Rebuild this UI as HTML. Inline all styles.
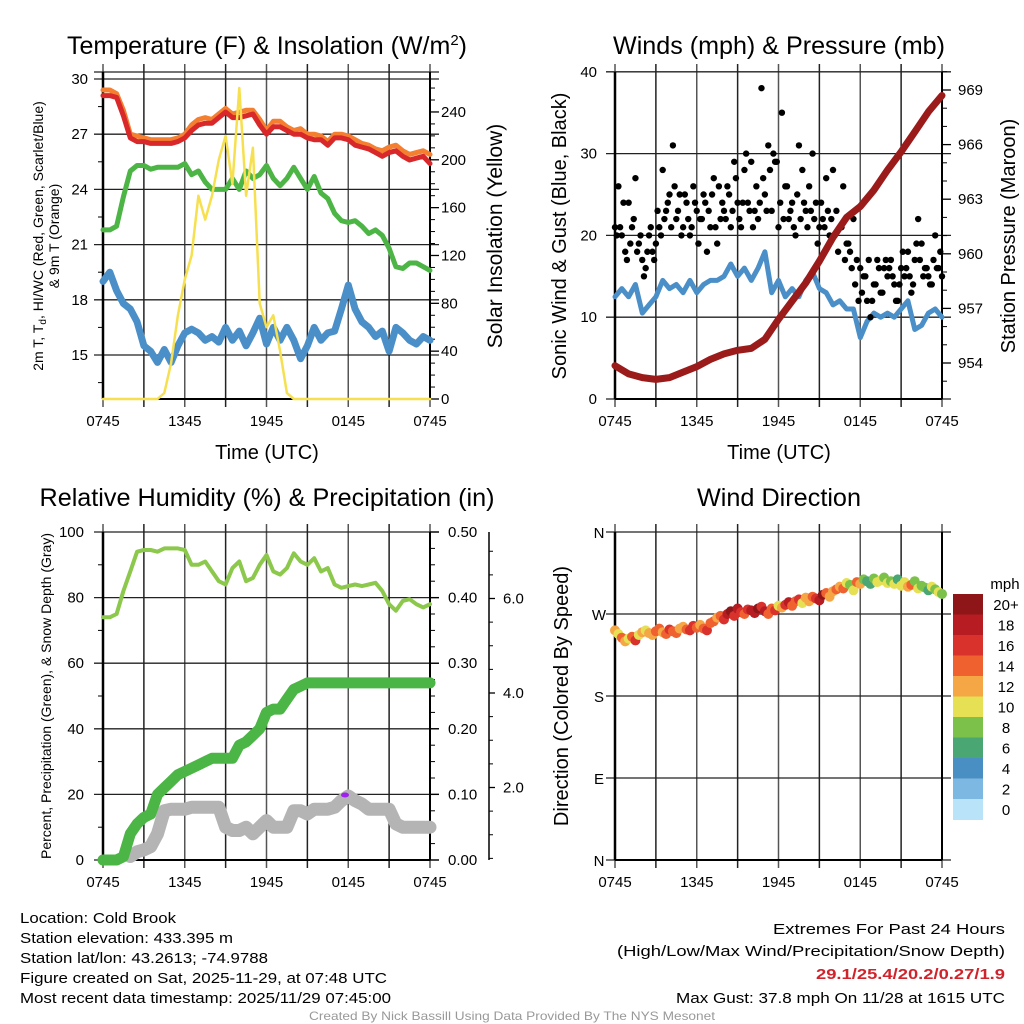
<!DOCTYPE html>
<html><head><meta charset="utf-8"><style>
html,body{margin:0;padding:0;background:#fff;}
svg{display:block;font-family:"Liberation Sans",sans-serif;}
</style></head><body>
<svg id="fig" width="1024" height="1024" viewBox="0 0 1024 1024" xmlns="http://www.w3.org/2000/svg">
<rect width="1024" height="1024" fill="#fff"/>
<g id="g1"></g>
<g id="g2"></g>
<g id="g3"></g>
<g id="g4"></g>
<text x="267" y="54" font-size="25" text-anchor="middle" textLength="400" lengthAdjust="spacingAndGlyphs">Temperature (F) &amp; Insolation (W/m<tspan dy="-9" font-size="15">2</tspan><tspan dy="9">)</tspan></text>
<text x="779" y="54" font-size="25" text-anchor="middle" textLength="332" lengthAdjust="spacingAndGlyphs">Winds (mph) &amp; Pressure (mb)</text>
<text x="267" y="506" font-size="25" text-anchor="middle" textLength="455" lengthAdjust="spacingAndGlyphs">Relative Humidity (%) &amp; Precipitation (in)</text>
<text x="779" y="506" font-size="25" text-anchor="middle" textLength="164" lengthAdjust="spacingAndGlyphs">Wind Direction</text>
<g font-size="15">
<text x="20" y="923" textLength="156" lengthAdjust="spacingAndGlyphs">Location: Cold Brook</text>
<text x="20" y="943" textLength="213" lengthAdjust="spacingAndGlyphs">Station elevation: 433.395 m</text>
<text x="20" y="963" textLength="248" lengthAdjust="spacingAndGlyphs">Station lat/lon: 43.2613; -74.9788</text>
<text x="20" y="983" textLength="367" lengthAdjust="spacingAndGlyphs">Figure created on Sat, 2025-11-29, at 07:48 UTC</text>
<text x="20" y="1003" textLength="371" lengthAdjust="spacingAndGlyphs">Most recent data timestamp: 2025/11/29 07:45:00</text>
<text x="1005" y="934" text-anchor="end" textLength="232" lengthAdjust="spacingAndGlyphs">Extremes For Past 24 Hours</text>
<text x="1005" y="956" text-anchor="end" textLength="388" lengthAdjust="spacingAndGlyphs">(High/Low/Max Wind/Precipitation/Snow Depth)</text>
<text x="1005" y="979" text-anchor="end" fill="#d0242c" font-weight="bold" textLength="189" lengthAdjust="spacingAndGlyphs">29.1/25.4/20.2/0.27/1.9</text>
<text x="1005" y="1003" text-anchor="end" textLength="329" lengthAdjust="spacingAndGlyphs">Max Gust: 37.8 mph On 11/28 at 1615 UTC</text>
<text x="512" y="1020" text-anchor="middle" font-size="12" fill="#999" textLength="406" lengthAdjust="spacingAndGlyphs">Created By Nick Bassill Using Data Provided By The NYS Mesonet</text>
</g>
</svg>
<script>
// ---- data (half-hourly, 49 points, 0745 -> 0745) ----
const timeLabels = ["0745","1345","1945","0145","0745"];
const tempRed = [29.1,29.1,29.0,28.0,26.8,26.6,26.6,26.5,26.5,26.5,26.5,26.6,26.8,27.2,27.5,27.6,27.6,27.9,28.2,27.9,27.9,28.0,28.1,27.5,27.0,27.4,27.4,27.2,27.0,27.0,26.8,26.7,26.7,26.4,26.8,26.8,26.7,26.4,26.3,26.2,26.0,25.8,26.0,26.1,25.8,25.6,25.7,25.8,25.4];
const temp9m = [29.4,29.4,29.2,28.3,27.0,26.9,26.8,26.7,26.7,26.7,26.7,26.8,27.0,27.5,27.8,27.9,27.8,28.1,28.4,28.1,28.2,28.3,28.3,27.8,27.2,27.7,27.7,27.4,27.2,27.3,27.0,27.0,26.9,26.6,27.0,27.0,26.9,26.7,26.5,26.4,26.2,26.1,26.3,26.4,26.1,25.9,26.0,26.1,25.9];
const tempGreen = [21.8,21.8,22.0,23.6,25.0,25.3,25.3,25.1,25.2,25.2,25.2,25.2,25.4,24.8,25.0,24.4,24.0,24.0,24.0,24.6,24.0,25.0,24.6,24.8,25.3,24.6,24.2,24.6,25.2,24.6,24.0,24.7,23.8,23.5,22.7,22.3,22.2,22.3,22.0,21.6,21.8,21.5,20.8,19.8,19.7,20.0,20.0,19.8,19.6];
const tempBlue = [19.0,19.5,18.5,17.8,17.5,16.8,15.5,15.2,14.6,15.3,14.6,15.5,16.2,16.4,16.2,15.8,16.0,15.7,16.5,15.8,16.3,15.5,16.2,17.0,15.6,16.5,15.8,16.5,15.8,14.8,15.5,16.5,15.8,16.2,16.3,17.5,18.8,17.5,16.8,16.5,16.0,16.3,15.2,16.5,16.2,15.8,15.6,16.0,15.8];
const solar = [0,0,0,0,0,0,0,0,0,5,30,70,100,120,170,150,170,200,220,180,260,170,210,80,60,70,40,5,0,0,0,0,0,0,0,0,0,0,0,0,0,0,0,0,0,0,0,0,0];
const windSust = [12.5,13.5,12.5,14,10.5,11.5,12.5,14.5,13.5,14,13,14.5,13,14,14.5,14.5,15,16.5,15,16,14.5,16,18,13,14.5,12.5,13.5,12.5,14.5,15.5,13.5,13,11.5,12,11,11,7.5,9.5,10.5,10,10.5,10,11,12,8.5,9,10.5,11,10];
// quarter-hourly gusts (97 points) and offset gusts (96 points, between quarter hours)
const gusts = [21,26,20,18,24,21,27,19,17, 16,20,18,19,21,28,23,25, 31,22,25,21,24,20,26,23, 22,25,18,21,27,19,22,23, 26,21,29,24,21,28,24,29, 23,22,38,25,31,23,29,21, 35,26,22,24,20,31,28,23, 26,30,24,21,22,27,20,28, 23,21,26,19,18,22,17,16, 15,12,10,14,17,13,16,15, 17,14,12,16,15,18,13,17, 22,19,16,15,14,20,16,15];
const gustsB = [20,21,24,17,19,22,18,20, 15,18,21,17,23,20,22,24, 21,26,23,20,25,22,21,24, 19,22,24,23,25,21,26,24, 22,25,23,27,22,24,30,23, 21,26,24,27,23,28,30,29, 24,22,26,23,21,25,22,24, 21,23,22,19,24,21,23,22, 20,18,21,17,19,16,14,12, 13,15,17,12,14,16,13,17, 16,15,12,14,18,16,15,14, 19,17,15,16,14,17,16,18];
// hourly pressure (25 points)
const pressure = [953.85,953.4,953.2,953.1,953.2,953.5,953.8,954.2,954.5,954.7,954.8,955.3,956.4,957.4,958.4,959.6,960.9,962.0,962.6,963.5,964.6,965.6,966.7,967.8,968.7];
const rhPct = [74,74,75,82,88,94,94.5,94.5,94,95,95,95,94.5,90,90,91,88,85,84,89,91,85,86,90,93,88,87,89,93.5,91,90,92,88,89,84,83,83.5,84,83.5,84,84.5,82,78,76,79,79.5,78,77,78];
const precipIn = [0,0,0,0.005,0.04,0.055,0.065,0.07,0.1,0.11,0.12,0.13,0.135,0.14,0.145,0.15,0.155,0.155,0.155,0.155,0.175,0.18,0.19,0.2,0.225,0.23,0.23,0.245,0.26,0.265,0.27,0.27,0.27,0.27,0.27,0.27,0.27,0.27,0.27,0.27,0.27,0.27,0.27,0.27,0.27,0.27,0.27,0.27,0.27];
const snowDepth = [null,null,null,null,0.54,0.64,0.68,0.75,1.02,1.51,1.54,1.54,1.54,1.58,1.58,1.58,1.58,1.58,1.16,1.09,1.09,1.16,1.02,1.16,1.30,1.16,1.16,1.16,1.51,1.51,1.44,1.54,1.54,1.54,1.58,1.72,1.82,1.72,1.65,1.54,1.54,1.54,1.54,1.23,1.16,1.16,1.16,1.16,1.16];
// quarter-hourly wind direction / speed (97 points)
const windDir = [252,248,244,240,243,245,241,247,250, 252,249,247,251,254,250,248,253, 251,249,254,256,253,252,257,255, 258,254,252,260,262,266,268,264, 270,273,268,276,272,270,275,274, 271,276,278,273,270,276,274,279, 277,280,283,279,284,286,282,288, 284,289,287,285,291,293,289,295, 297,300,298,304,302,296,305,303, 308,306,303,309,305,307,310,304, 306,303,308,301,305,300,302,306, 298,301,299,296,300,297,294,292];
const windSpd = [12,11,14,12,10,15,16,11,12, 10,13,12,14,15,13,14,16, 14,15,13,12,14,16,17,15, 13,14,16,15,14,13,15,17, 18,20,16,19,17,15,16,18, 19,21,17,18,15,14,16,10, 12,17,19,15,14,16,11,12, 13,15,17,18,20,14,13,12, 15,12,14,11,9,10,14,13, 8,6,7,9,10,11,8,10, 9,10,7,11,10,12,14,9, 10,8,9,6,11,8,10,9];
const speedBins = ["0","2","4","6","8","10","12","14","16","18","20+"];
const binColors = ["#b8e3f8","#7cb8e2","#4a8fc4","#4aa672","#7cc14a","#e6e055","#f5a645","#ef6230","#d9312c","#b71c22","#8e1618"];

const NS='http://www.w3.org/2000/svg';
function mk(parent,tag,attrs){const e=document.createElementNS(NS,tag);for(const k in attrs)e.setAttribute(k,attrs[k]);parent.appendChild(e);return e;}
function xs(i,n,x0,x1){return x0+i/(n-1)*(x1-x0);}
function line(g,x1,y1,x2,y2,c,w,name){const e=mk(g,'line',{x1,y1,x2,y2,stroke:c,'stroke-width':w});

return e;}
function txt(g,x,y,s,size,anchor,name,extra){const e=mk(g,'text',Object.assign({x,y,'font-size':size,'text-anchor':anchor},extra||{}));e.textContent=s;

return e;}
function path(g,vals,x0,x1,yf,c,w,name){let d='';let pen=false;vals.forEach((v,i)=>{if(v===null){pen=false;return;}const x=xs(i,vals.length,x0,x1),y=yf(v);d+=(pen?'L':'M')+x.toFixed(1)+' '+y.toFixed(1);pen=true;});
const e=mk(g,'path',{d,fill:'none',stroke:c,'stroke-width':w,'stroke-linejoin':'round','stroke-linecap':'round'});

return e;}

function frame(g,x0,x1,yt,yb,hy,xlabY){
  for(let k=0;k<=8;k++){const x=x0+k*(x1-x0)/8;line(g,x,yt-8,x,yb+8,k%2?'#222':'#555',1.5,'x-gridline');}
  hy.forEach(y=>line(g,x0-9,y,x1+9,y,'#222',1.3,'y-gridline'));
  line(g,x0,yt,x0,yb,'#000',2.5,'left-axis');
  line(g,x1,yt,x1,yb,'#000',2,'right-axis');
  line(g,x0,yb,x1,yb,'#000',2,'bottom-axis');
  timeLabels.forEach((s,k)=>txt(g,x0+k*(x1-x0)/4,xlabY,s,15,'middle','x-tick-label'));
}

// ---------- Panel 1 ----------
(function(){
 const g=document.getElementById('g1');const X0=103,X1=430;
 const yT=v=>79+(30-v)*18.4, yS=v=>399-v*1.196;
 const ticks=[30,27,24,21,18,15];
 frame(g,X0,X1,72,399,[72].concat(ticks.map(yT)),426);
 ticks.forEach(v=>txt(g,88,yT(v)+5,String(v),15,'end','left-tick-label'));
 for(let v=13.5;v<30;v+=1.5){if(v%3)line(g,X0-5,yT(v),X0,yT(v),'#000',1,'minor-tick');}
 [0,40,80,120,160,200,240].forEach(v=>{line(g,X1,yS(v),X1+9,yS(v),'#000',1.3,'right-tick');txt(g,441,yS(v)+5,String(v),15,'start','right-tick-label');});
 for(let v=10;v<270;v+=10){if(v%40)line(g,X1,yS(v),X1+5,yS(v),'#000',1,'minor-tick');}
 path(g,tempBlue,X0,X1,yT,'#4a8fc8',7,'dewpoint-line');
 path(g,tempGreen,X0,X1,yT,'#4cb545',5,'hiwc-line');
 path(g,temp9m,X0,X1,yT,'#f47f30',5,'temp-9m-line');
 path(g,tempRed,X0,X1,yT,'#d8282a',5,'temp-2m-line');
 path(g,solar,X0,X1,yS,'#f6e050',2.5,'solar-line');
 txt(g,267,459,'Time (UTC)',20,'middle','x-axis-title');
 const t=txt(g,0,0,'',14,'middle','left-axis-title',{transform:'translate(43,236) rotate(-90)'});
 t.innerHTML='2m T, T<tspan font-size="10" dy="3">d</tspan><tspan dy="-3">, HI/WC (Red, Green, Scarlet/Blue)</tspan>';
 txt(g,0,0,'& 9m T (Orange)',14,'middle','left-axis-title-line2',{transform:'translate(59,236) rotate(-90)'});
 txt(g,0,0,'Solar Insolation (Yellow)',21,'middle','right-axis-title',{transform:'translate(502,236) rotate(-90)'});
})();

// ---------- Panel 2 ----------
(function(){
 const g=document.getElementById('g2');const X0=615,X1=942;
 const yW=v=>399-v*8.18, yP=v=>90+(969-v)*18.2;
 const ticks=[40,30,20,10,0];
 frame(g,X0,X1,72,399,ticks.map(yW),426);
 ticks.forEach(v=>txt(g,597,yW(v)+5,String(v),15,'end','left-tick-label'));
 [954,957,960,963,966,969].forEach(v=>{line(g,X1,yP(v),X1+9,yP(v),'#000',1.3,'right-tick');txt(g,958,yP(v)+5,String(v),15,'start','right-tick-label');});
 for(let v=953;v<971;v++){if(v%3)line(g,X1,yP(v),X1+5,yP(v),'#000',1,'minor-tick');}
 path(g,windSust,X0,X1,yW,'#4a8fc8',5,'sustained-wind-line');
 gusts.forEach((v,i)=>{const c=mk(g,'circle',{cx:xs(i,gusts.length,X0,X1),cy:yW(v),r:3.2,fill:'#000'});
 
 });
 const dx=(X1-X0)/96;
 gustsB.forEach((v,i)=>{const c=mk(g,'circle',{cx:X0+dx*(i+0.5),cy:yW(v),r:3.2,fill:'#000'});
 
 });
 path(g,pressure,X0,X1,yP,'#9b1b1b',7,'pressure-line');
 txt(g,779,459,'Time (UTC)',20,'middle','x-axis-title');
 txt(g,0,0,'Sonic Wind & Gust (Blue, Black)',20,'middle','left-axis-title',{transform:'translate(566,236) rotate(-90)'});
 txt(g,0,0,'Station Pressure (Maroon)',20,'middle','right-axis-title',{transform:'translate(1015,236) rotate(-90)'});
})();

// ---------- Panel 3 ----------
(function(){
 const g=document.getElementById('g3');const X0=103,X1=430;
 const yPct=v=>860-v*3.28, yPr=v=>860-v*656, ySn=v=>693-(v-4)*47.25;
 const ticks=[100,80,60,40,20,0];
 frame(g,X0,X1,532,860,ticks.map(yPct),887);
 ticks.forEach(v=>txt(g,84,yPct(v)+5,String(v),15,'end','left-tick-label'));
 for(let v=10;v<100;v+=20)line(g,X0-5,yPct(v),X0,yPct(v),'#000',1,'minor-tick');
 ['0.00','0.10','0.20','0.30','0.40','0.50'].forEach(s=>{const v=+s;line(g,X1,yPr(v),X1+9,yPr(v),'#000',1.3,'right-tick');txt(g,448,yPr(v)+5,s,15,'start','precip-tick-label');});
 for(let v=0.025;v<0.5;v+=0.025){if(Math.round(v*40)%4)line(g,X1,yPr(v),X1+5,yPr(v),'#000',1,'minor-tick');}
 line(g,489,532,489,860,'#000',1.5,'snow-axis');
 [2,4,6].forEach(v=>{line(g,489,ySn(v),495,ySn(v),'#000',1.3,'snow-tick');txt(g,503,ySn(v)+5,v.toFixed(1),15,'start','snow-tick-label');});
 for(let v=0.5;v<7.6;v+=0.5){if(ySn(v)>532&&ySn(v)<860&&v%2)line(g,489,ySn(v),493,ySn(v),'#000',1,'snow-minor-tick');}
 path(g,snowDepth,X0,X1,ySn,'#b4b4b4',13,'snow-depth-line');
 const pd=mk(g,'ellipse',{cx:345,cy:795,rx:4,ry:2.5,fill:'#a020f0'});
 
 
 path(g,precipIn,X0,X1,yPr,'#4bb545',11,'precip-line');
 path(g,rhPct,X0,X1,yPct,'#8cc84b',4,'rh-line');
 txt(g,0,0,'Percent, Precipitation (Green), & Snow Depth (Gray)',14,'middle','left-axis-title',{transform:'translate(51,696) rotate(-90)'});
})();

// ---------- Panel 4 ----------
(function(){
 const g=document.getElementById('g4');const X0=615,X1=942;
 const yD=d=>860-d/360*328;
 const dl=[[360,'N'],[270,'W'],[180,'S'],[90,'E'],[0,'N']];
 frame(g,X0,X1,532,860,dl.map(d=>yD(d[0])),887);
 dl.forEach(d=>txt(g,599,yD(d[0])+6,d[1],15,'middle','direction-tick-label'));
 windDir.forEach((d,i)=>{const b=Math.min(10,Math.floor(windSpd[i]/2));
 const c=mk(g,'circle',{cx:xs(i,windDir.length,X0,X1),cy:yD(d),r:5,fill:binColors[b]});
 
 });
 txt(g,0,0,'Direction (Colored By Speed)',20,'middle','left-axis-title',{transform:'translate(568,696) rotate(-90)'});
 txt(g,1005,589,'mph',15,'middle','colorbar-title');
 const top=594,h=20.5;
 speedBins.forEach((s,k)=>{const idx=10-k;
 const r=mk(g,'rect',{x:953,y:top+k*h,width:30,height:h+0.5,fill:binColors[idx]});
 
 
 txt(g,1006,top+k*h+16,speedBins[idx],15,'middle','colorbar-label');});
})();
</script>
</body></html>
